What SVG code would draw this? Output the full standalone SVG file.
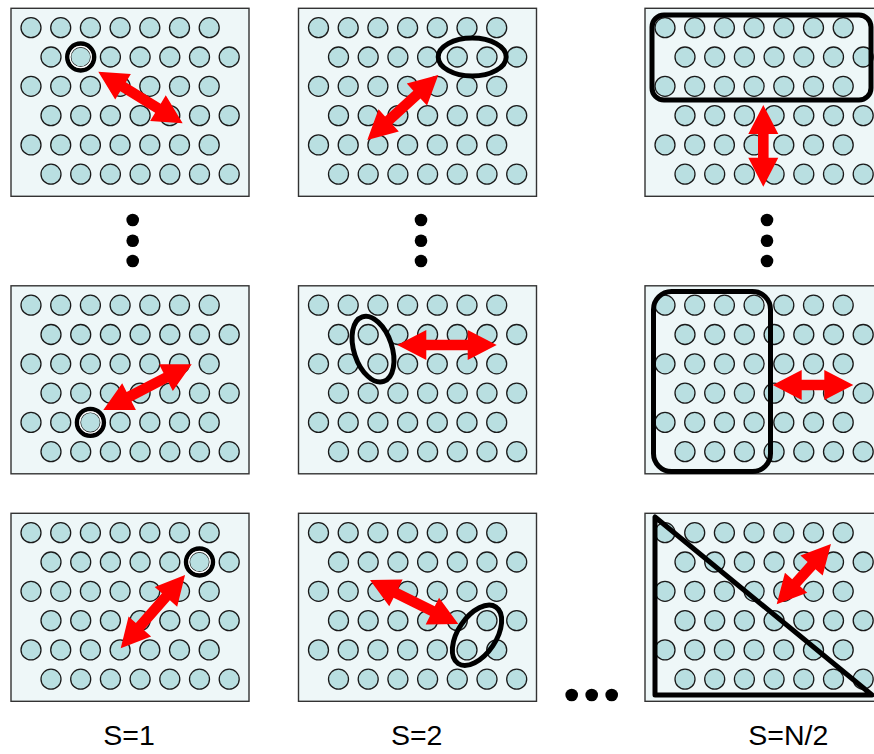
<svg xmlns="http://www.w3.org/2000/svg" xmlns:xlink="http://www.w3.org/1999/xlink" width="874" height="754" viewBox="0 0 874 754">
<style>
.panel{fill:#EEF7F8;stroke:#333;stroke-width:1.4}
.c{fill:#B9DFE1;stroke:#1a1a1a;stroke-width:1.3}
.ring{fill:none;stroke:#000;stroke-width:4.6}
.ringw{fill:none;stroke:#fff;stroke-width:1.2}
.sel{fill:none;stroke:#000;stroke-width:5;stroke-linejoin:round}
.arr{fill:#FF0000;stroke:none}
.dot{fill:#000}
.lbl{font-family:"Liberation Sans",Arial,sans-serif;font-size:28.5px;fill:#000;text-anchor:middle}
</style>
<defs>
<g id="grid">
<circle class="c" cx="20" cy="19.4" r="10"/><circle class="c" cx="49.7" cy="19.4" r="10"/><circle class="c" cx="79.4" cy="19.4" r="10"/><circle class="c" cx="109.1" cy="19.4" r="10"/><circle class="c" cx="138.8" cy="19.4" r="10"/><circle class="c" cx="168.5" cy="19.4" r="10"/><circle class="c" cx="198.2" cy="19.4" r="10"/>
<circle class="c" cx="40" cy="48.7" r="10"/><circle class="c" cx="69.7" cy="48.7" r="10"/><circle class="c" cx="99.4" cy="48.7" r="10"/><circle class="c" cx="129.1" cy="48.7" r="10"/><circle class="c" cx="158.8" cy="48.7" r="10"/><circle class="c" cx="188.5" cy="48.7" r="10"/><circle class="c" cx="218.2" cy="48.7" r="10"/>
<circle class="c" cx="20" cy="78" r="10"/><circle class="c" cx="49.7" cy="78" r="10"/><circle class="c" cx="79.4" cy="78" r="10"/><circle class="c" cx="109.1" cy="78" r="10"/><circle class="c" cx="138.8" cy="78" r="10"/><circle class="c" cx="168.5" cy="78" r="10"/><circle class="c" cx="198.2" cy="78" r="10"/>
<circle class="c" cx="40" cy="107.3" r="10"/><circle class="c" cx="69.7" cy="107.3" r="10"/><circle class="c" cx="99.4" cy="107.3" r="10"/><circle class="c" cx="129.1" cy="107.3" r="10"/><circle class="c" cx="158.8" cy="107.3" r="10"/><circle class="c" cx="188.5" cy="107.3" r="10"/><circle class="c" cx="218.2" cy="107.3" r="10"/>
<circle class="c" cx="20" cy="136.6" r="10"/><circle class="c" cx="49.7" cy="136.6" r="10"/><circle class="c" cx="79.4" cy="136.6" r="10"/><circle class="c" cx="109.1" cy="136.6" r="10"/><circle class="c" cx="138.8" cy="136.6" r="10"/><circle class="c" cx="168.5" cy="136.6" r="10"/><circle class="c" cx="198.2" cy="136.6" r="10"/>
<circle class="c" cx="40" cy="165.9" r="10"/><circle class="c" cx="69.7" cy="165.9" r="10"/><circle class="c" cx="99.4" cy="165.9" r="10"/><circle class="c" cx="129.1" cy="165.9" r="10"/><circle class="c" cx="158.8" cy="165.9" r="10"/><circle class="c" cx="188.5" cy="165.9" r="10"/><circle class="c" cx="218.2" cy="165.9" r="10"/>
</g>
<g id="hl">
<circle class="ring" cx="0" cy="0" r="13.4"/>
<circle class="ringw" cx="0" cy="0" r="10.6"/>
</g>
</defs>

<g id="panel-s1-top">
<rect class="panel" x="11" y="8.3" width="238" height="188"/>
<use xlink:href="#grid" x="11" y="8.3"/>
<use xlink:href="#hl" x="80.7" y="57"/>
</g>
<g id="panel-s2-top">
<rect class="panel" x="298.5" y="8.3" width="238" height="188"/>
<use xlink:href="#grid" x="298.5" y="8.3"/>
<ellipse class="sel" cx="472.2" cy="57" rx="34" ry="19"/>
</g>
<g id="panel-sn-top">
<rect class="panel" x="645" y="8.3" width="238" height="188"/>
<use xlink:href="#grid" x="645" y="8.3"/>
<rect class="sel" x="652" y="15" width="219" height="85" rx="12"/>
</g>

<g id="panel-s1-mid">
<rect class="panel" x="11" y="285.8" width="238" height="188"/>
<use xlink:href="#grid" x="11" y="285.8"/>
<use xlink:href="#hl" x="90.4" y="422.4"/>
</g>
<g id="panel-s2-mid">
<rect class="panel" x="298.5" y="285.8" width="238" height="188"/>
<use xlink:href="#grid" x="298.5" y="285.8"/>
<ellipse class="sel" cx="0" cy="0" rx="34" ry="19" transform="translate(373,349.2) rotate(71.7)"/>
</g>
<g id="panel-sn-mid">
<rect class="panel" x="645" y="285.8" width="238" height="188"/>
<use xlink:href="#grid" x="645" y="285.8"/>
<rect class="sel" x="653.5" y="291.5" width="117" height="180" rx="18"/>
</g>

<g id="panel-s1-bot">
<rect class="panel" x="11" y="513.3" width="238" height="188"/>
<use xlink:href="#grid" x="11" y="513.3"/>
<use xlink:href="#hl" x="199.5" y="562"/>
</g>
<g id="panel-s2-bot">
<rect class="panel" x="298.5" y="513.3" width="238" height="188"/>
<use xlink:href="#grid" x="298.5" y="513.3"/>
<ellipse class="sel" cx="0" cy="0" rx="34" ry="19" transform="translate(477,635.3) rotate(123.9)"/>
</g>
<g id="panel-sn-bot">
<rect class="panel" x="645" y="513.3" width="238" height="188"/>
<use xlink:href="#grid" x="645" y="513.3"/>
<polygon class="sel" points="655,517 655,695 872,695"/>
</g>

<g id="arrows">
<polygon class="arr" transform="translate(98.3,71.7) rotate(31.44)" points="0,0 29,-15 29,-5.3 69.9,-5.3 69.9,-15 98.9,0 69.9,15 69.9,5.3 29,5.3 29,15"/>
<polygon class="arr" transform="translate(367.3,140) rotate(-42.5)" points="0,0 29,-15 29,-5.3 67.3,-5.3 67.3,-15 96.3,0 67.3,15 67.3,5.3 29,5.3 29,15"/>
<polygon class="arr" transform="translate(763.3,105) rotate(90)" points="0,0 29,-15 29,-5.3 52.7,-5.3 52.7,-15 81.7,0 52.7,15 52.7,5.3 29,5.3 29,15"/>
<polygon class="arr" transform="translate(103.3,410) rotate(-27.3)" points="0,0 29,-15 29,-5.3 70.5,-5.3 70.5,-15 99.5,0 70.5,15 70.5,5.3 29,5.3 29,15"/>
<polygon class="arr" transform="translate(397.3,345)" points="0,0 29,-15 29,-5.3 70.4,-5.3 70.4,-15 99.4,0 70.4,15 70.4,5.3 29,5.3 29,15"/>
<polygon class="arr" transform="translate(772.7,385)" points="0,0 29,-15 29,-5.3 51.6,-5.3 51.6,-15 80.6,0 51.6,15 51.6,5.3 29,5.3 29,15"/>
<polygon class="arr" transform="translate(120.7,648.3) rotate(-48.7)" points="0,0 29,-15 29,-5.3 68.5,-5.3 68.5,-15 97.5,0 68.5,15 68.5,5.3 29,5.3 29,15"/>
<polygon class="arr" transform="translate(370,580) rotate(26.5)" points="0,0 29,-15 29,-5.3 69.7,-5.3 69.7,-15 98.7,0 69.7,15 69.7,5.3 29,5.3 29,15"/>
<polygon class="arr" transform="translate(776.7,604.3) rotate(-48)" points="0,0 29,-15 29,-5.3 52.1,-5.3 52.1,-15 81.1,0 52.1,15 52.1,5.3 29,5.3 29,15"/>
</g>

<g id="ellipses">
<circle class="dot" cx="132.7" cy="220" r="6.3"/>
<circle class="dot" cx="132.7" cy="240.7" r="6.3"/>
<circle class="dot" cx="132.7" cy="261" r="6.3"/>
<circle class="dot" cx="421" cy="220" r="6.3"/>
<circle class="dot" cx="421" cy="240.7" r="6.3"/>
<circle class="dot" cx="421" cy="261" r="6.3"/>
<circle class="dot" cx="767" cy="220" r="6.3"/>
<circle class="dot" cx="767" cy="240.7" r="6.3"/>
<circle class="dot" cx="767" cy="261" r="6.3"/>
<circle class="dot" cx="571.7" cy="695" r="6.3"/>
<circle class="dot" cx="591.7" cy="695" r="6.3"/>
<circle class="dot" cx="611.7" cy="695" r="6.3"/>
</g>

<g id="labels">
<text class="lbl" x="129" y="745">S=1</text>
<text class="lbl" x="416.7" y="745">S=2</text>
<text class="lbl" x="788.3" y="745">S=N/2</text>
</g>
</svg>
